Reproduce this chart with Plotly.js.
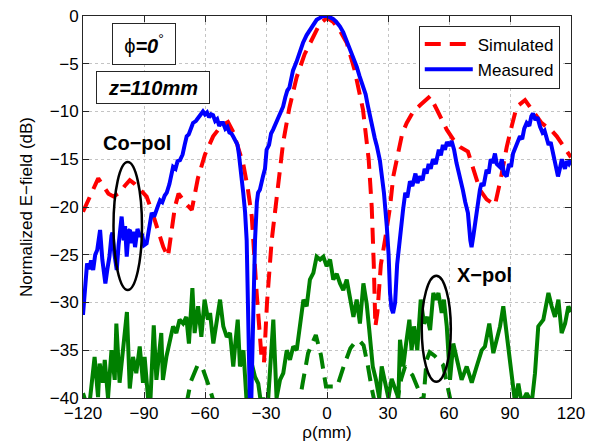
<!DOCTYPE html>
<html>
<head>
<meta charset="utf-8">
<script src="https://cdn.plot.ly/plotly-3.0.1.min.js"></script>
<style>html,body{margin:0;padding:0;background:#fff;}#chart{width:595px;height:443px;}</style>
</head>
<body>
<div id="chart"></div>
<script>
// Co-pol simulated (red dashed)
var coSimX = [-120,-118,-116,-114,-112.5,-110,-107.5,-105,-102,-99.5,-97,-94.5,-92,-88.7,-86,-83,-80.5,-78.2,-76.5,-74.8,-73,-70,-66.5,-63.5,-60,-56,-52,-48.7,-46,-43.5,-41.2,-39,-37,-34.6,-32.1,-31,-29.5,-27.2,-26.4,-24,-21.6,-18.5,-14.9,-11,-6.9,-3.5,0,3,6.5,9.7,13.5,17.7,20.5,22,23,23.8,24.8,26.5,28.5,31,32.6,35,37,39.2,42.4,46,50.7,54.5,58.9,62,65.4,69.3,72,75.2,78.5,82.6,85.5,88.4,91,93.3,97.4,100.5,103.1,105.5,108,110.5,113,116,119.5,120];
var coSimY = [-20.5,-19.5,-18.5,-17.5,-17,-17.8,-18.6,-18.9,-18.5,-17.8,-17.2,-17.6,-18.2,-18.9,-20.5,-22.6,-24.2,-25.2,-22.5,-20,-18.6,-19.5,-20.3,-17,-14.5,-12.6,-11.5,-11.1,-12.2,-13.8,-15.5,-18,-21,-29,-36,-36.3,-30,-23.5,-22,-17.8,-13.3,-9.6,-6.4,-4,-2.2,-0.8,-0.2,-0.6,-1.6,-2.8,-5.6,-9.8,-15,-20,-26,-32.5,-31,-26,-23.5,-20,-16.8,-14.2,-12.3,-11.2,-10,-9.3,-8.4,-10,-11.9,-12.9,-13.7,-14.2,-16,-18.2,-19.2,-19.8,-17,-13.7,-11.4,-9.5,-8.8,-9.8,-10.5,-11.2,-11.6,-12,-12.6,-13.5,-14.7,-14.8];

// Co-pol measured (blue solid)
var coMeasX = [-120,-119,-118,-117,-116,-115,-114,-113,-112,-111.6,-110.5,-109,-108,-107,-106,-105.5,-104.5,-103.4,-102.5,-101.5,-101,-100,-99.3,-98.5,-97.5,-96.9,-96,-95.2,-94.4,-93.2,-92,-91,-90,-88.7,-87.5,-86.2,-85,-84,-83,-82.1,-81,-79.8,-78.8,-77.5,-76.5,-75.7,-74.5,-73.5,-72.3,-71,-70,-69,-68,-67,-65.9,-64.5,-63,-62,-61,-60,-59,-58,-57,-56,-55,-54,-53,-52,-51.1,-50,-49,-48,-47,-46.2,-45,-44,-43.3,-42.8,-42,-41.2,-40.3,-39.5,-38.8,-38.3,-37.6,-37,-36.3,-35.4,-34.5,-33.9,-33,-32,-31.5,-30.5,-29.7,-28.5,-27.5,-26.5,-25,-23.5,-22.5,-21.6,-20.5,-19.5,-18.5,-17.5,-16.7,-15,-13.5,-11.8,-10,-8,-6.5,-5.1,-3.5,-2,0,1.5,3,4.5,6.4,8,9.5,11,12.5,14.6,16,17.5,19,20,21.1,22.5,23.5,24.5,26,27,28,29.4,30.3,31,31.7,32.5,33.5,34.5,35.9,37.4,38.5,39.5,40.8,42,43.5,44.5,45.7,47,48,49,50,51,52.1,53.5,55,56,57,58,59,60,61.3,62.5,63.7,65,66.8,68,69.3,70.5,71.1,72,72.8,74,75.2,76,77,78.5,79.5,80.5,81.5,82.6,83.5,85,86,87,88.4,89.5,90.5,91.5,93,94.9,96,97,98.2,99.5,100.5,101.3,102.5,103.5,104.8,106,107,108,109,110,111.2,112.5,113.6,114.5,115.5,116.1,117,118,119,120];
var coMeasY = [-31.3,-28,-25.9,-26.5,-25.6,-26.6,-25,-24.5,-23,-22.4,-25.5,-28,-26.5,-25.2,-23,-22.7,-25,-26.6,-24,-21.5,-21,-23.5,-22,-25.2,-22.5,-22.4,-23.8,-22.6,-24.2,-22.3,-23.1,-22.8,-24,-23.8,-22.5,-20.6,-21,-20.2,-19.8,-19.3,-19.5,-18.8,-18.5,-17.6,-16.8,-15.8,-16,-15.2,-15.1,-14.5,-13.5,-12.6,-12.4,-11.8,-11.2,-11,-10.5,-10.2,-10,-10.3,-10.1,-10.6,-10.3,-10.4,-11,-10.8,-11.5,-11.2,-11.2,-11.8,-11.6,-12.2,-12.3,-12.6,-13,-13.5,-14.5,-15.8,-17,-18.5,-20.5,-23.5,-31,-40,-44,-38,-30,-23.5,-19.5,-18.5,-18.2,-17.5,-16.8,-16,-14,-13.5,-12.3,-11.9,-11.2,-10.5,-10,-9.5,-8.5,-7.8,-7.5,-6.4,-5.7,-4.8,-3.8,-2.8,-2,-1.3,-0.9,-0.4,-0.2,0,0,-0.1,-0.3,-0.6,-1.1,-1.7,-2.5,-3.2,-4,-5.3,-6.3,-7.2,-8.2,-9.3,-10.5,-11.7,-12.8,-13.6,-15.1,-16.8,-18.5,-22,-25,-29,-30.6,-31.1,-30,-26,-23,-20.3,-18.5,-19,-17.3,-17.8,-16.5,-17.5,-16.8,-17.2,-16,-16.5,-15.5,-16,-15,-15.5,-14,-14.6,-13.5,-14,-13.2,-13.6,-13.1,-14,-15.4,-16.5,-18.2,-19.5,-20.6,-23.5,-24.2,-23,-21.7,-20,-18.2,-17.5,-17.8,-16.1,-16.5,-15,-15.4,-14.4,-15.5,-15.8,-15,-16.5,-16.8,-15.5,-15.8,-14.4,-13.6,-12.6,-12.9,-11.8,-11.2,-11.5,-10.5,-10.2,-10.9,-10.6,-11.6,-12.2,-12,-13,-13.5,-13.2,-14.4,-15.5,-16.8,-16,-15,-15.4,-16,-15.2,-15.5,-15.1];

// X-pol simulated (green dashed)
var xSimX = [-120,-75,-69,-67,-63.5,-61,-58,-56,-52,-20,-14,-12,-9.3,-5.5,-3,-0.5,5,8.5,11.5,14,16,18,20,22,24,33,36.5,38.4,42,45.7,47.3,49,50.5,53,57,59,61,65,120];
var xSimY = [-45,-44,-40.5,-38.3,-36.5,-37,-38.8,-40.2,-43,-44,-41,-38.5,-35.3,-33.4,-35.5,-38.8,-38.8,-36.5,-34.8,-34.1,-34,-34.5,-36.5,-39,-41,-42,-38,-36.7,-37.6,-39.5,-40.5,-36,-35.2,-35.6,-36.5,-38.5,-40.5,-43,-45];

// X-pol measured (green solid)
var xMeasX = [-120,-118.5,-117,-115.5,-114.3,-112.6,-111.8,-110.2,-109.3,-107.7,-106,-104.4,-103.6,-102,-100.3,-98.4,-97,-95.4,-93.8,-92.1,-90.5,-89.7,-88,-87,-85.2,-83.9,-81.5,-80.7,-79,-77,-75.7,-74.1,-72.5,-70.8,-69.2,-67.9,-66.2,-65.1,-63.4,-61.8,-60.2,-58.5,-57.5,-55.9,-54.3,-52.6,-51,-49.3,-47.7,-46.1,-44.9,-43.9,-42.8,-41.1,-39.5,-38.5,-37,-35.4,-33.8,-32.5,-31.3,-29.5,-28.9,-26.4,-24.8,-23.1,-21.5,-19.8,-18.2,-16.6,-14.9,-13.3,-11.6,-10,-8.4,-6.7,-5.1,-3.4,-1.8,-0.2,1.5,3.1,4.8,6.4,8,9.7,11.3,13,14.6,16.2,17.9,19.5,20.8,22.5,24.1,25.7,26.9,28.5,30.2,31.8,33.5,35.1,35.9,37.5,38.9,40.5,41.6,42.8,44.4,46.1,47.7,49.3,50.7,52.3,53.6,54.8,56.4,57.5,58.9,60.5,62.1,63.8,66.2,68.7,71.2,73.6,76.1,77.7,79.8,81.8,83.4,85.1,86.7,88,89.2,90.8,92.5,94.1,95.7,98.2,100.7,102.3,103.9,106.4,108.9,110.5,112.1,113.8,115.4,117.1,118.7,120];
var xMeasY = [-39.5,-40.5,-41,-38,-35.7,-39.9,-36.4,-38.4,-36,-40,-35,-38.1,-32.2,-38.4,-34.6,-31,-39,-35.7,-37.4,-34.6,-38.4,-35.7,-40,-41,-32.4,-38.1,-33.2,-38.1,-35.7,-33.9,-32.5,-33.2,-31.8,-32.2,-31.5,-34.3,-28.5,-33.2,-30.4,-33.6,-29.7,-31.8,-31.1,-34.3,-32.2,-29.7,-32.5,-33.6,-33.2,-36.7,-33.9,-31.8,-36.7,-35,-40.5,-41,-36.4,-37.8,-38.5,-40.5,-40,-41,-40,-31.8,-40,-38.1,-37.4,-35,-36,-34.6,-35,-32.2,-29.7,-30.4,-27.6,-26.9,-25.2,-25.5,-25.2,-26.2,-25.5,-27.6,-27,-28,-28.7,-27.6,-29.4,-31.5,-29.7,-32.2,-28,-30.1,-32.9,-36.7,-38.1,-40,-36.7,-38.5,-40,-38,-39.2,-40,-33.9,-36.7,-34.3,-31.8,-35,-32.5,-35,-29.7,-32.2,-31.5,-32.9,-29,-29.7,-29,-31.1,-29.7,-32.5,-38.1,-34.3,-36,-38.1,-36.7,-38.4,-36.7,-35,-34.6,-32.2,-35.3,-34,-32.5,-30.4,-32.9,-35,-37.4,-40.5,-38.5,-40.5,-39.5,-40.5,-37.4,-32.5,-31.8,-29,-30.4,-31.5,-29.7,-33.2,-32.2,-30.4,-31];

var xTicks = [-120,-90,-60,-30,0,30,60,90,120];
var yTicks = [0,-5,-10,-15,-20,-25,-30,-35,-40];
var seriesNames = ['Simulated','Measured'];

var FONT = 'Arial, "Liberation Sans", Helvetica, sans-serif';

var traces = [
  {x: xSimX, y: xSimY, mode:'lines', line:{color:'#008000', width:4, dash:'16px,9px'}, showlegend:false, hoverinfo:'skip'},
  {x: xMeasX, y: xMeasY, mode:'lines', line:{color:'#008000', width:4}, showlegend:false, hoverinfo:'skip'},
  {x: coSimX, y: coSimY, mode:'lines', name: seriesNames[0], line:{color:'#ff0000', width:4, dash:'16px,9px'}},
  {x: coMeasX, y: coMeasY, mode:'lines', name: seriesNames[1], line:{color:'#0000ff', width:4}}
];

var axisCommon = {
  showline:true, linecolor:'#262626', linewidth:1, mirror:'ticks',
  ticks:'inside', ticklen:6, tickwidth:1, tickcolor:'#262626',
  showgrid:true, gridcolor:'#c4c4c4', gridwidth:1, griddash:'dot',
  zeroline:false, tickfont:{family:FONT, size:17, color:'#000'}
};

var layout = {
  width:595, height:443,
  margin:{l:83, r:24, t:16, b:45, pad:0},
  paper_bgcolor:'#fff', plot_bgcolor:'#fff',
  font:{family:FONT, color:'#000'},
  xaxis: Object.assign({}, axisCommon, {
    range:[-120,120], tickvals:xTicks, ticktext:xTicks.map(function(v){return v<0?'\u2212'+(-v):String(v);}),
    title:{text:'\u03c1(mm)', font:{family:FONT, size:17, color:'#000'}, standoff:0}
  }),
  yaxis: Object.assign({}, axisCommon, {
    range:[-40,0], tickvals:yTicks, ticktext:yTicks.map(function(v){return v<0?'\u2212'+(-v):String(v);}),
    title:{text:'Normalized E\u2212field (dB)', font:{family:FONT, size:17, color:'#000'}, standoff:12}
  }),
  legend:{
    x:0.977, y:0.975, xanchor:'right', yanchor:'top',
    bordercolor:'#262626', borderwidth:1, bgcolor:'#fff',
    font:{family:FONT, size:17, color:'#000'},
    tracegroupgap:0, itemwidth:48
  },
  shapes:[
    {type:'circle', xref:'x', yref:'y', x0:-105, x1:-91, y0:-28.7, y1:-15.3, line:{color:'#000', width:2.5}},
    {type:'circle', xref:'x', yref:'y', x0:46.6, x1:60.9, y0:-38.3, y1:-27.2, line:{color:'#000', width:2.5}}
  ],
  annotations:[
    {xref:'paper', yref:'paper', x:0.126, y:0.928, xanchor:'center', yanchor:'middle', showarrow:false,
     text:'\u03d5<b><i>=0</i></b><sup>\u00b0</sup>', font:{family:FONT, size:20, color:'#000'},
     bordercolor:'#262626', borderwidth:1, borderpad:0, width:62, height:40, bgcolor:'#fff'},
    {xref:'paper', yref:'paper', x:0.1434, y:0.8128, xanchor:'center', yanchor:'middle', showarrow:false,
     text:'<b><i>z=110mm</i></b>', font:{family:FONT, size:20, color:'#000'},
     bordercolor:'#262626', borderwidth:1, borderpad:0, width:112, height:31, bgcolor:'#fff'},
    {xref:'x', yref:'y', x:-93.4, y:-13.3, xanchor:'center', yanchor:'middle', showarrow:false,
     text:'<b>Co\u2212pol</b>', font:{family:FONT, size:20, color:'#000'}},
    {xref:'x', yref:'y', x:77.7, y:-27.1, xanchor:'center', yanchor:'middle', showarrow:false,
     text:'<b>X\u2212pol</b>', font:{family:FONT, size:20, color:'#000'}}
  ]
};

Plotly.newPlot('chart', traces, layout, {staticPlot:true, displayModeBar:false});
</script>
</body>
</html>
